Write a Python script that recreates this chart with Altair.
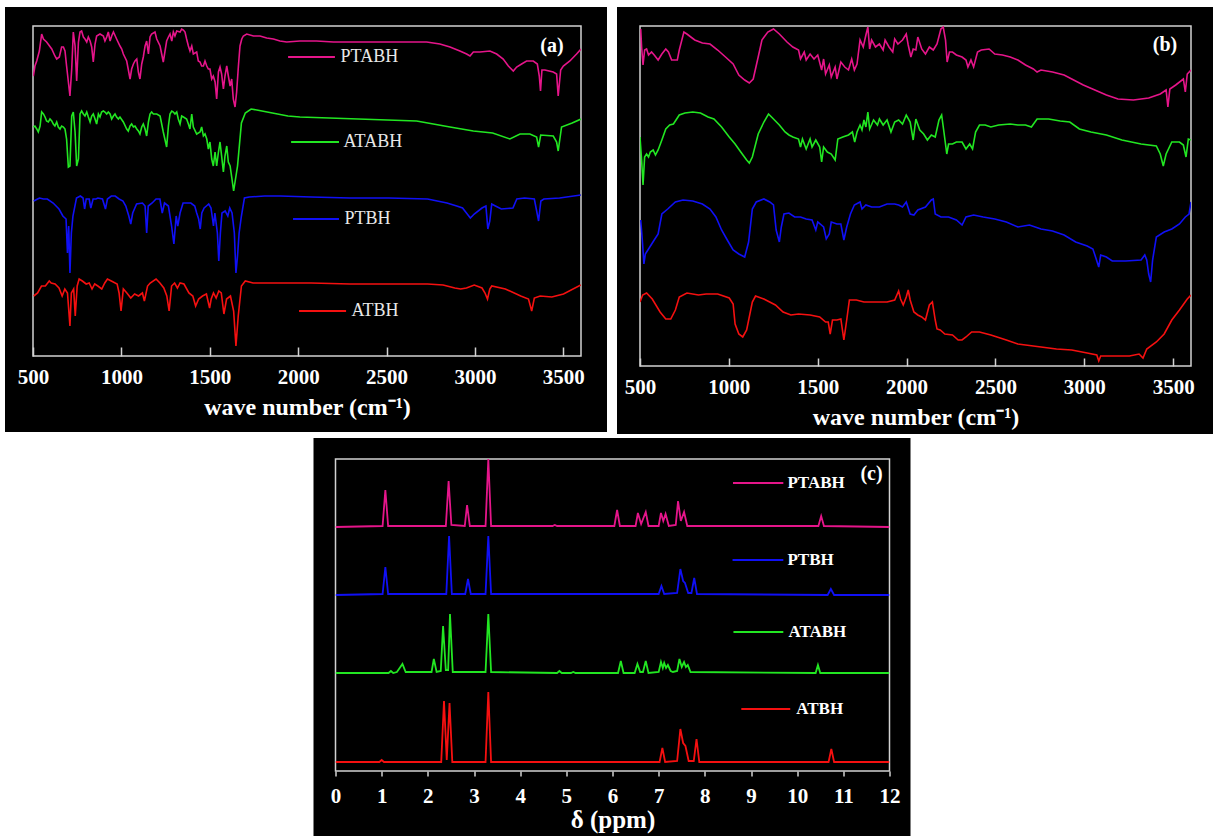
import altair as alt
import pandas as pd

FONT = "Liberation Serif"
SERIES = ["PTABH", "ATABH", "PTBH", "ATBH"]
COLORS = ["#e5158a", "#22e622", "#1010f5", "#f51010"]
FRAME = "#d2d2d2"

# ---------------- panel (a): FTIR, wave number (cm-1) vs transmittance (a.u.) ----------------
A_PTABH_X = [502,511,521,536,549,559,577,606,624,634,649,662,672,681,690,709,719,728,738,747,
             757,766,775,785,794,804,813,823,832,841,851,860,879,898,907,917,926,936,945,955,
             973,992,1002,1011,1030,1049,1058,1068,1077,1087,1096,1105,1115,1124,1134,1143,1153,1162,1171,1190,
             1200,1219,1237,1256,1266,1275,1285,1294,1303,1313,1332,1341,1351,1360,1369,1379,1388,1398,1407,1426,
             1435,1445,1454,1464,1473,1483,1492,1501,1511,1520,1530,1539,1549,1558,1567,1577,1586,1596,1605,1615,
             1624,1633,1643,1652,1662,1671,1681,1690,1709,1747,1784,1822,1860,1897,1935,2010,2104,2199,2293,2387,
             2576,2670,2727,2802,2859,2915,2953,2972,2991,3028,3085,3123,3160,3189,3217,3236,3264,3292,3330,3353,
             3364,3371,3379,3396,3443,3462,3471,3485,3500,3537,3575,3600]
A_PTABH_Y = [280,290,295,305,322,317,314,307,300,297,299,309,309,305,290,260,287,324,310,275,
             314,324,325,319,317,314,319,315,309,294,312,320,322,320,315,319,324,315,320,324,
             317,310,307,302,295,277,287,292,295,297,284,277,292,299,310,315,302,319,322,324,
             317,310,294,315,319,322,315,324,320,325,324,327,326,324,317,310,305,310,302,304,
             295,294,290,290,295,290,287,287,277,280,274,257,284,289,282,267,280,290,280,270,
             277,257,249,264,290,310,317,320,322,320,320,318,317,315,314,315,315,314,314,314,
             314,314,314,312,309,305,302,300,304,304,305,302,297,290,285,289,292,295,295,292,
             280,265,286,286,284,282,260,286,290,295,302,307]

A_ATABH_X = [502,511,521,530,540,549,559,568,577,587,596,606,615,624,634,643,653,662,672,681,
             690,700,709,719,728,738,747,757,766,775,785,794,804,813,823,832,841,851,860,870,
             879,888,898,907,917,926,936,945,955,964,973,983,992,1011,1030,1039,1049,1058,1068,1077,
             1087,1096,1105,1115,1124,1134,1143,1153,1162,1171,1181,1200,1219,1237,1256,1266,1275,1285,1294,1303,
             1313,1322,1332,1341,1351,1369,1379,1388,1398,1407,1426,1445,1454,1464,1473,1483,1492,1501,1511,1520,
             1530,1539,1549,1558,1567,1577,1586,1596,1605,1615,1624,1635,1657,1679,1701,1734,1766,1854,1942,2010,
             2670,2859,2991,3100,3198,3255,3311,3349,3360,3372,3443,3462,3471,3490,3550,3600]
A_ATABH_Y = [229,230,227,224,230,244,242,239,235,234,237,235,232,230,234,229,227,230,229,227,
             217,189,190,240,244,224,190,197,242,245,242,240,244,239,234,240,242,237,232,242,
             239,244,245,244,242,244,242,237,240,242,239,237,239,234,227,225,230,232,229,230,
             227,225,222,229,232,227,220,234,242,244,242,242,240,224,209,230,242,245,244,242,
             244,237,232,240,239,237,232,227,242,229,222,224,229,220,222,217,207,214,197,190,
             204,190,204,214,200,184,200,210,194,190,179,165,190,233,243,247,246,243,240,239,
             235,229,225,223,217,222,222,219,209,221,220,214,205,229,233,237]

A_PTBH = [(504,155),(526,157),(537,158),(559,157),(581,157),(614,153),(647,147),(669,140),(687,137),(695,103),
          (702,130),(709,83),(717,123),(726,140),(746,158),(768,160),(783,158),(792,147),(801,157),(818,157),
          (827,148),(840,157),(856,157),(867,158),(893,157),(910,147),(921,157),(943,160),(965,160),(987,157),
          (1009,155),(1025,150),(1042,140),(1053,132),(1064,143),(1086,152),(1119,153),(1134,150),(1143,123),(1152,150),
          (1174,153),(1196,157),(1218,157),(1231,143),(1244,153),(1266,150),(1284,130),(1297,112),(1310,140),(1319,130),
          (1332,143),(1349,153),(1371,153),(1393,153),(1415,150),(1426,143),(1437,137),(1446,127),(1455,143),(1468,148),
          (1481,150),(1494,152),(1507,148),(1521,130),(1529,143),(1543,123),(1551,95),(1560,123),(1569,143),(1587,145),
          (1602,140),(1613,148),(1626,143),(1639,123),(1648,83),(1657,100),(1666,123),(1679,140),(1696,158),(1723,159),
          (1810,160),(1898,160),(2074,159),(2293,158),(2513,158),(2732,157),(2842,153),(2897,150),(2930,148),(2952,143),
          (2974,138),(2996,142),(3040,148),(3062,150),(3073,127),(3084,135),(3095,152),(3116,150),(3149,147),(3215,148),
          (3237,157),(3281,158),(3336,157),(3347,147),(3360,135),(3373,155),(3390,157),(3479,158),(3599,161)]

A_ATBH = [(504,60),(526,63),(548,70),(570,70),(592,75),(603,73),(625,72),(647,68),(665,60),(680,67),
          (695,63),(709,30),(717,63),(730,67),(739,40),(750,70),(761,77),(779,75),(801,72),(818,73),
          (834,67),(849,72),(867,70),(889,67),(906,73),(921,77),(943,75),(976,72),(987,63),(998,45),
          (1011,67),(1031,63),(1053,58),(1075,62),(1097,60),(1119,63),(1130,55),(1148,70),(1163,73),(1196,77),
          (1218,73),(1240,68),(1257,60),(1270,45),(1284,70),(1301,73),(1317,68),(1332,73),(1354,72),(1382,63),
          (1404,60),(1420,50),(1437,57),(1459,60),(1481,62),(1499,48),(1508,57),(1521,63),(1536,58),(1551,65),
          (1565,63),(1580,42),(1595,57),(1617,60),(1635,45),(1648,10),(1661,40),(1679,70),(1701,75),(1745,73),
          (1854,73),(2074,73),(2293,72),(2513,72),(2732,72),(2820,71),(2886,68),(2919,67),(2952,68),(2996,71),
          (3040,68),(3057,63),(3071,57),(3084,67),(3095,70),(3172,67),(3259,60),(3303,57),(3321,45),(3336,58),
          (3369,60),(3435,59),(3501,62),(3599,71)]

# ---------------- panel (b): FTIR ----------------
B_PTABH = [(504,337),(509,319),(517,301),(526,316),(537,317),(548,311),(565,314),(580,311),(602,306),(623,312),
           (645,317),(660,314),(678,306),(710,306),(721,316),(747,334),(764,332),(786,329),(808,326),(851,323),
           (894,322),(937,316),(981,309),(1024,302),(1056,291),(1089,286),(1115,283),(1137,287),(1165,309),(1186,326),
           (1219,334),(1251,337),(1284,332),(1327,324),(1360,319),(1392,316),(1403,307),(1424,314),(1435,306),(1457,312),
           (1479,307),(1500,311),(1522,296),(1533,307),(1544,292),(1565,301),(1576,289),(1598,299),(1608,287),(1630,304),
           (1652,299),(1673,296),(1691,307),(1706,296),(1721,302),(1738,326),(1756,319),(1771,331),(1782,339),(1792,317),
           (1803,326),(1825,319),(1847,322),(1868,316),(1879,326),(1901,319),(1922,314),(1933,327),(1951,322),(1977,326),
           (1998,332),(2009,321),(2024,309),(2037,317),(2052,316),(2063,329),(2085,317),(2106,312),(2128,319),(2150,316),
           (2171,322),(2193,337),(2206,339),(2219,326),(2228,304),(2241,314),(2258,314),(2280,311),(2312,309),(2334,306),
           (2345,299),(2362,306),(2377,299),(2399,314),(2420,316),(2464,317),(2496,312),(2539,311),(2583,309),(2626,306),
           (2669,301),(2713,297),(2734,294),(2756,296),(2821,294),(2886,291),(2929,287),(2994,281),(3059,276),(3124,271),
           (3189,267),(3276,266),(3362,268),(3427,272),(3460,276),(3470,259),(3481,277),(3514,281),(3557,287),(3568,274),
           (3579,292),(3600,296)]

B_ATABH = [(500,229),(509,206),(517,181),(526,209),(537,212),(548,209),(558,214),(574,216),(587,211),(602,216),
           (623,226),(645,237),(667,241),(688,242),(721,251),(753,253),(797,254),(840,253),(883,249),(916,247),
           (959,239),(1002,229),(1035,222),(1067,214),(1100,206),(1115,203),(1132,209),(1165,232),(1197,244),(1223,252),
           (1240,249),(1284,241),(1316,234),(1338,231),(1360,229),(1392,227),(1403,219),(1414,227),(1435,217),(1457,227),
           (1468,219),(1489,226),(1511,219),(1522,204),(1533,219),(1554,214),(1576,212),(1598,206),(1613,227),(1641,229),
           (1673,231),(1695,234),(1708,224),(1721,234),(1738,241),(1749,236),(1760,246),(1771,239),(1782,254),(1792,237),
           (1814,246),(1836,241),(1847,247),(1868,241),(1890,246),(1912,234),(1933,244),(1955,246),(1977,242),(1998,251),
           (2020,244),(2037,226),(2052,247),(2074,236),(2096,232),(2117,226),(2139,231),(2161,229),(2182,246),(2197,251),
           (2210,234),(2226,212),(2236,222),(2258,222),(2280,224),(2312,224),(2334,217),(2355,222),(2371,217),(2388,234),
           (2410,241),(2442,241),(2474,239),(2518,241),(2583,242),(2626,241),(2669,241),(2702,239),(2734,247),(2799,247),
           (2864,245),(2918,244),(2972,237),(3037,234),(3124,231),(3211,226),(3319,222),(3405,220),(3427,212),(3444,200),
           (3460,212),(3492,224),(3535,224),(3557,221),(3572,209),(3585,227),(3600,226)]

B_PTBH = [(504,146),(513,126),(522,102),(530,112),(548,117),(580,126),(602,132),(623,152),(656,157),(699,164),
          (742,166),(797,165),(851,162),(894,157),(927,149),(959,136),(991,126),(1024,116),(1056,112),(1089,109),
          (1111,124),(1132,157),(1154,164),(1197,167),(1230,164),(1251,161),(1266,136),(1284,124),(1295,139),(1310,152),
          (1338,153),(1370,149),(1403,149),(1435,147),(1468,146),(1489,136),(1500,144),(1533,139),(1548,127),(1565,132),
          (1576,144),(1608,142),(1630,142),(1647,126),(1663,139),(1684,152),(1706,161),(1738,164),(1749,157),(1771,161),
          (1803,159),(1847,159),(1890,162),(1933,162),(1955,161),(1977,159),(1998,164),(2020,152),(2041,151),(2063,156),
          (2106,159),(2139,166),(2150,167),(2161,152),(2193,149),(2236,149),(2280,146),(2312,141),(2334,149),(2377,151),
          (2431,149),(2496,147),(2561,144),(2626,139),(2691,141),(2756,137),(2821,135),(2886,131),(2951,124),(3016,120),
          (3048,117),(3063,109),(3081,99),(3092,111),(3124,109),(3157,105),(3232,105),(3319,106),(3340,111),(3351,106),
          (3362,92),(3373,84),(3384,106),(3405,129),(3449,134),(3492,137),(3535,142),(3568,149),(3589,152),(3600,164)]

B_ATBH = [(500,64),(515,71),(537,73),(569,67),(613,54),(645,47),(673,47),(699,56),(721,69),(764,73),
          (829,71),(872,72),(937,72),(1002,68),(1024,62),(1035,42),(1056,32),(1078,29),(1100,36),(1132,64),
          (1150,70),(1197,67),(1262,61),(1305,54),(1349,51),(1392,52),(1457,51),(1511,49),(1544,44),(1559,44),
          (1570,32),(1583,46),(1608,46),(1630,47),(1647,26),(1663,46),(1678,66),(1717,66),(1760,64),(1825,64),
          (1890,64),(1933,66),(1955,75),(1966,67),(1981,61),(1998,69),(2009,76),(2020,66),(2041,54),(2063,51),
          (2085,49),(2106,46),(2128,61),(2145,64),(2161,46),(2171,37),(2189,36),(2215,32),(2258,31),(2290,26),
          (2312,26),(2334,29),(2366,34),(2410,34),(2474,31),(2561,26),(2626,22),(2669,21),(2756,19),(2843,17),
          (2929,16),(3016,13),(3070,11),(3081,5),(3092,10),(3146,10),(3254,10),(3308,12),(3330,8),(3351,17),
          (3405,24),(3449,32),(3492,46),(3535,56),(3579,67),(3600,71)]

# ---------------- panel (c): 1H NMR, chemical shift (ppm) vs intensity (a.u.) ----------------
C_PTABH = [(0,244),(1.02,245),(1.08,281),(1.14,245),(2.39,245),(2.45,290),(2.51,246),(2.80,245),(2.85,266),(2.91,245),
           (3.25,245),(3.31,312),(3.37,245),(4.70,245),(4.75,246),(4.80,245),(6.04,245),(6.10,261),(6.16,245),(6.50,245),
           (6.55,258),(6.62,247),(6.72,259),(6.78,245),(7.00,245),(7.05,258),(7.10,250),(7.15,257),(7.22,245),(7.37,246),
           (7.42,270),(7.48,250),(7.55,259),(7.62,245),(10.46,245),(10.52,255),(10.58,245),(12,244)]
C_PTBH = [(0,176),(1.02,177),(1.08,204),(1.14,177),(2.40,177),(2.46,235),(2.52,177),(2.81,177),(2.87,192),(2.93,177),
          (3.25,177),(3.31,235),(3.37,177),(7.00,177),(7.06,185),(7.12,177),(7.40,178),(7.47,202),(7.53,190),(7.57,188),
          (7.64,178),(7.71,178),(7.77,193),(7.83,177),(10.66,176),(10.73,182),(10.80,176),(12,176)]
C_ATABH = [(0,98),(1.15,98),(1.20,100),(1.25,98),(1.33,99),(1.39,103),(1.45,107),(1.52,99),(2.08,99),(2.13,112),
           (2.19,99),(2.28,100),(2.33,145),(2.39,101),(2.44,101),(2.48,157),(2.54,99),(3.25,99),(3.31,157),(3.37,99),
           (4.80,98),(4.85,100),(4.90,98),(5.10,98),(5.15,99),(5.20,98),(6.12,98),(6.18,110),(6.24,98),(6.48,98),
           (6.54,107),(6.60,99),(6.66,99),(6.72,110),(6.78,98),(7.00,99),(7.05,109),(7.09,103),(7.12,108),(7.16,103),
           (7.20,106),(7.26,100),(7.31,99),(7.40,100),(7.45,112),(7.50,104),(7.55,109),(7.59,104),(7.63,106),(7.69,99),
           (10.40,98),(10.45,106),(10.50,98),(12,98)]
C_ATBH = [(0,9),(0.95,9),(1.00,11),(1.05,9),(2.29,9),(2.35,70),(2.41,11),(2.47,68),(2.53,9),(3.25,9),
          (3.31,79),(3.37,9),(7.02,9),(7.08,23),(7.14,9),(7.40,10),(7.47,42),(7.53,28),(7.58,25),(7.65,10),
          (7.76,10),(7.82,32),(7.88,9),(10.68,9),(10.74,22),(10.80,9),(12,9)]

# legend keys (series, line start, line end, text start, level) and panel tags
A_KEYS = [("PTABH", 1943, 2208, 2240, 299), ("ATABH", 1960, 2231, 2257, 214),
          ("PTBH", 1971, 2231, 2262, 137), ("ATBH", 2005, 2271, 2302, 45)]
C_KEYS = [("PTABH", 8.61, 9.70, 9.79, 288), ("PTBH", 8.60, 9.70, 9.79, 211),
          ("ATABH", 8.62, 9.70, 9.81, 139), ("ATBH", 8.79, 9.85, 9.98, 62)]
A_TAG = ("(a)", 3436, 310)
B_TAG = ("(b)", 3454, 321)
C_TAG = ("(c)", 11.61, 297)


def long_frame(d):
    rows = []
    for name, pts in d.items():
        for i, (x, y) in enumerate(pts):
            rows.append({"x": x, "y": y, "series": name, "i": i})
    return pd.DataFrame(rows)


def key_frame(keys):
    return pd.DataFrame([{"series": s, "x1": a, "x2": b, "xt": t, "y": y} for s, a, b, t, y in keys])


def panel(df, W, H, xdom, ydom, axis, bg, keys, key_style, tag, lw):
    xs = alt.Scale(domain=xdom, nice=False, zero=False)
    ys = alt.Scale(domain=ydom, nice=False, zero=False)
    cs = alt.Scale(domain=SERIES, range=COLORS)
    one = alt.Data(values=[{"k": 1}])
    back = alt.Chart(one).mark_rect(color="black").encode(
        x=alt.value(bg[0]), x2=alt.value(bg[1]), y=alt.value(bg[2]), y2=alt.value(bg[3]))
    box = alt.Chart(one).mark_rect(fillOpacity=0, stroke=FRAME, strokeWidth=1.5).encode(
        x=alt.value(0), x2=alt.value(W), y=alt.value(0), y2=alt.value(H))
    traces = alt.Chart(df).mark_line(strokeWidth=lw, clip=True).encode(
        x=alt.X("x:Q", scale=xs, axis=axis),
        y=alt.Y("y:Q", scale=ys, axis=None),
        color=alt.Color("series:N", scale=cs, legend=None),
        order="i:Q")
    layers = [back, box, traces]
    if keys is not None:
        kdf = key_frame(keys)
        layers.append(alt.Chart(kdf).mark_rule(strokeWidth=2).encode(
            x=alt.X("x1:Q", scale=xs, axis=axis), x2="x2:Q",
            y=alt.Y("y:Q", scale=ys, axis=None),
            color=alt.Color("series:N", scale=cs, legend=None)))
        layers.append(alt.Chart(kdf).mark_text(align="left", baseline="middle", font=FONT, **key_style).encode(
            x=alt.X("xt:Q", scale=xs, axis=axis), y=alt.Y("y:Q", scale=ys, axis=None), text="series:N"))
    tdf = pd.DataFrame([{"t": tag[0], "x": tag[1], "y": tag[2]}])
    layers.append(alt.Chart(tdf).mark_text(font=FONT, fontSize=20, fontWeight="bold", color="white",
                                           align="center", baseline="middle").encode(
        x=alt.X("x:Q", scale=xs, axis=axis), y=alt.Y("y:Q", scale=ys, axis=None), text="t:N"))
    return alt.layer(*layers).properties(width=W, height=H)


def ir_axis(tick):
    return alt.Axis(orient="bottom", values=[500, 1000, 1500, 2000, 2500, 3000, 3500], format="d",
                    title="wave number (cm⁻¹)", domain=False, grid=False,
                    tickSize=tick, offset=-tick, tickWidth=1.5, tickColor=FRAME,
                    labelFont=FONT, labelFontSize=21, labelFontWeight="bold", labelColor="white",
                    labelPadding=10, labelFlush=False, labelOverlap=False,
                    titleFont=FONT, titleFontSize=24, titleFontWeight="bold", titleColor="white",
                    titlePadding=8, zindex=1)


nmr_axis = alt.Axis(orient="bottom", values=list(range(13)), format="d", title="δ (ppm)", domain=False, grid=False,
                    tickSize=5, tickWidth=1.5, tickColor=FRAME,
                    labelFont=FONT, labelFontSize=21, labelFontWeight="bold", labelColor="white",
                    labelPadding=9, labelFlush=False, labelOverlap=False,
                    titleFont=FONT, titleFontSize=25, titleFontWeight="bold", titleColor="white",
                    titlePadding=1, zindex=1)

dfa = long_frame({"PTABH": list(zip(A_PTABH_X, A_PTABH_Y)), "ATABH": list(zip(A_ATABH_X, A_ATABH_Y)),
                  "PTBH": A_PTBH, "ATBH": A_ATBH})
dfb = long_frame({"PTABH": B_PTABH, "ATABH": B_ATABH, "PTBH": B_PTBH, "ATBH": B_ATBH})
dfc = long_frame({"PTABH": C_PTABH, "PTBH": C_PTBH, "ATABH": C_ATABH, "ATBH": C_ATBH})

pa = panel(dfa, 548, 330, [500, 3600], [0, 330], ir_axis(9), (-28, 574, -19, 406),
           A_KEYS, {"fontSize": 18, "color": "#e8e8e8"}, A_TAG, 1.6)
pb = panel(dfb, 551, 340, [500, 3600], [0, 340], ir_axis(8), (-23, 573, -19, 408),
           None, None, B_TAG, 1.6)
pc = panel(dfc, 554, 312, [0, 12], [0, 312], nmr_axis, (-22, 575, -21, 377),
           C_KEYS, {"fontSize": 17, "fontWeight": "bold", "color": "white"}, C_TAG, 1.8)

top = alt.hconcat(pa, pb, spacing=10)
chart = alt.vconcat(top, pc, spacing=4, center=True).properties(
    padding={"left": 5, "top": 7, "right": 0, "bottom": 0},
    background="white",
).configure_view(strokeWidth=0)

chart.save("out.html", embed_options={"renderer": "svg", "actions": False})
